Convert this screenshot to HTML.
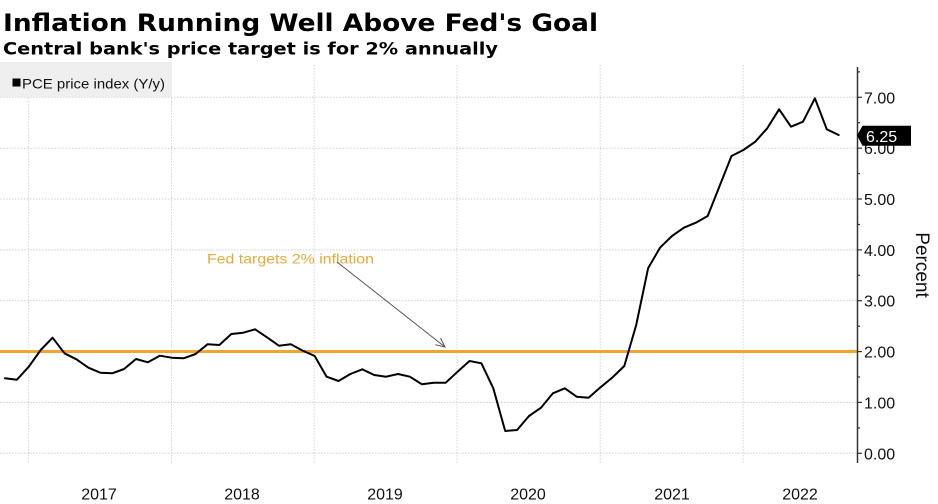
<!DOCTYPE html>
<html>
<head>
<meta charset="utf-8">
<style>
html,body{margin:0;padding:0;background:#fff;}
svg{display:block;}
</style>
</head>
<body>
<svg width="938" height="504" viewBox="0 0 938 504" xmlns="http://www.w3.org/2000/svg" font-family="'Liberation Sans', 'DejaVu Sans', sans-serif">
  <rect x="0" y="0" width="938" height="504" fill="#ffffff"/>

  <!-- Title -->
  <text x="3" y="31" font-size="24" font-weight="bold" font-family="'DejaVu Sans', 'Liberation Sans', sans-serif" fill="#000" textLength="595" lengthAdjust="spacingAndGlyphs">Inflation Running Well Above Fed's Goal</text>
  <text x="3" y="54.5" font-size="17" font-weight="bold" font-family="'DejaVu Sans', 'Liberation Sans', sans-serif" fill="#000" textLength="495" lengthAdjust="spacingAndGlyphs">Central bank's price target is for 2% annually</text>

  <!-- Horizontal gridlines -->
  <g stroke="#cfcfcf" stroke-width="1" stroke-dasharray="1.5,1.5">
    <line x1="0" y1="97.3" x2="857" y2="97.3"/>
    <line x1="0" y1="148.2" x2="857" y2="148.2"/>
    <line x1="0" y1="199.0" x2="857" y2="199.0"/>
    <line x1="0" y1="249.9" x2="857" y2="249.9"/>
    <line x1="0" y1="300.7" x2="857" y2="300.7"/>
    <line x1="0" y1="402.4" x2="857" y2="402.4"/>
    <line x1="0" y1="453.3" x2="857" y2="453.3"/>
  </g>
  <!-- Vertical gridlines -->
  <g stroke="#d4d4d4" stroke-width="1" stroke-dasharray="1.5,1.5">
    <line x1="28.7" y1="65" x2="28.7" y2="463"/>
    <line x1="171.5" y1="65" x2="171.5" y2="463"/>
    <line x1="314.2" y1="65" x2="314.2" y2="463"/>
    <line x1="457" y1="65" x2="457" y2="463"/>
    <line x1="600.2" y1="65" x2="600.2" y2="463"/>
    <line x1="743.2" y1="65" x2="743.2" y2="463"/>
  </g>

  <!-- Legend -->
  <rect x="0" y="62" width="172" height="35" fill="#efefef"/>
  <rect x="12.5" y="78.5" width="8" height="8" fill="#000"/>
  <text x="22" y="88.5" font-size="14" fill="#111" textLength="143" lengthAdjust="spacingAndGlyphs">PCE price index (Y/y)</text>

  <!-- Fed target line -->
  <line x1="0" y1="351.5" x2="857" y2="351.5" stroke="#f2a431" stroke-width="3"/>

  <!-- Annotation -->
  <text x="207" y="263.5" font-size="14" fill="#e9a93c" textLength="167" lengthAdjust="spacingAndGlyphs">Fed targets 2% inflation</text>
  <g stroke="#555" stroke-width="1" fill="none">
    <line x1="337" y1="262" x2="445" y2="347"/>
    <polyline points="440.5,338.1 445,347 435.3,344.7"/>
  </g>

  <!-- Data series -->
  <polyline fill="none" stroke="#000" stroke-width="2" stroke-linejoin="round" stroke-linecap="round" points="
    5,378.3 16.9,379.7 28.8,366.7 40.7,350 52.6,337.7 64.5,353.3 76.4,359.3 88.4,367.7 100.3,372.7 112.2,373.3
    124.1,369 136,359 147.9,362.3 159.8,355.7 171.7,357.7 183.6,358.3 195.6,354 207.5,344.3 219.4,345 231.3,334
    243.2,332.7 255.1,329.3 267,337.3 278.9,345.7 290.8,344.3 302.8,350.7 314.7,356 326.6,376.7 338.5,381 350.4,374
    362.3,369.3 374.2,375 386.1,376.7 398,374 409.9,376.7 421.9,384.3 433.8,382.7 445.7,382.7 457.6,371.7 469.5,361
    481.4,363.3 493.3,388.3 505.2,431 517.1,430 529,416 541,407.7 552.9,393.3 564.8,388.3 576.7,396.7 588.6,397.7
    600.5,387.3 612.4,377.5 624.3,366 636.2,325 648.1,268.3 660,247.7 672,236 683.9,227.7 695.8,222.7 707.7,216
    719.6,186 731.5,156 743.4,150 755.3,141.7 767.2,128.3 779.1,109.3 791,126.7 803,121.7 814.9,98.3 826.8,129.3 838.7,135"/>

  <!-- Right axis -->
  <line x1="857.5" y1="67" x2="857.5" y2="463" stroke="#333" stroke-width="1.5"/>
  <g stroke="#333" stroke-width="1.2">
    <line x1="857" y1="97.3" x2="862" y2="97.3"/>
    <line x1="857" y1="148.2" x2="862" y2="148.2"/>
    <line x1="857" y1="199.0" x2="862" y2="199.0"/>
    <line x1="857" y1="249.9" x2="862" y2="249.9"/>
    <line x1="857" y1="300.7" x2="862" y2="300.7"/>
    <line x1="857" y1="351.6" x2="862" y2="351.6"/>
    <line x1="857" y1="402.4" x2="862" y2="402.4"/>
    <line x1="857" y1="453.3" x2="862" y2="453.3"/>
    <line x1="857" y1="71.9" x2="860" y2="71.9"/>
    <line x1="857" y1="122.7" x2="860" y2="122.7"/>
    <line x1="857" y1="173.6" x2="860" y2="173.6"/>
    <line x1="857" y1="224.5" x2="860" y2="224.5"/>
    <line x1="857" y1="275.3" x2="860" y2="275.3"/>
    <line x1="857" y1="326.2" x2="860" y2="326.2"/>
    <line x1="857" y1="377.0" x2="860" y2="377.0"/>
    <line x1="857" y1="427.9" x2="860" y2="427.9"/>
  </g>
  <g font-size="16" fill="#111">
    <text x="864" y="103.3">7.00</text>
    <text x="864" y="154.2">6.00</text>
    <text x="864" y="205">5.00</text>
    <text x="864" y="255.9">4.00</text>
    <text x="864" y="306.7">3.00</text>
    <text x="864" y="357.6">2.00</text>
    <text x="864" y="408.4">1.00</text>
    <text x="864" y="459.3">0.00</text>
  </g>

  <!-- Last value label -->
  <polygon points="857,135.5 862.5,125.7 911,125.7 911,145.7 862.5,145.7" fill="#000"/>
  <text x="866" y="141.8" font-size="16" fill="#fff">6.25</text>

  <!-- Axis title -->
  <text x="0" y="0" font-size="19" fill="#111" text-anchor="middle" transform="translate(916,265) rotate(90)">Percent</text>

  <!-- Year labels -->
  <g font-size="16" fill="#111" text-anchor="middle">
    <text x="99" y="499.5">2017</text>
    <text x="242" y="499.5">2018</text>
    <text x="385" y="499.5">2019</text>
    <text x="528" y="499.5">2020</text>
    <text x="672" y="499.5">2021</text>
    <text x="800" y="499.5">2022</text>
  </g>
</svg>
</body>
</html>
